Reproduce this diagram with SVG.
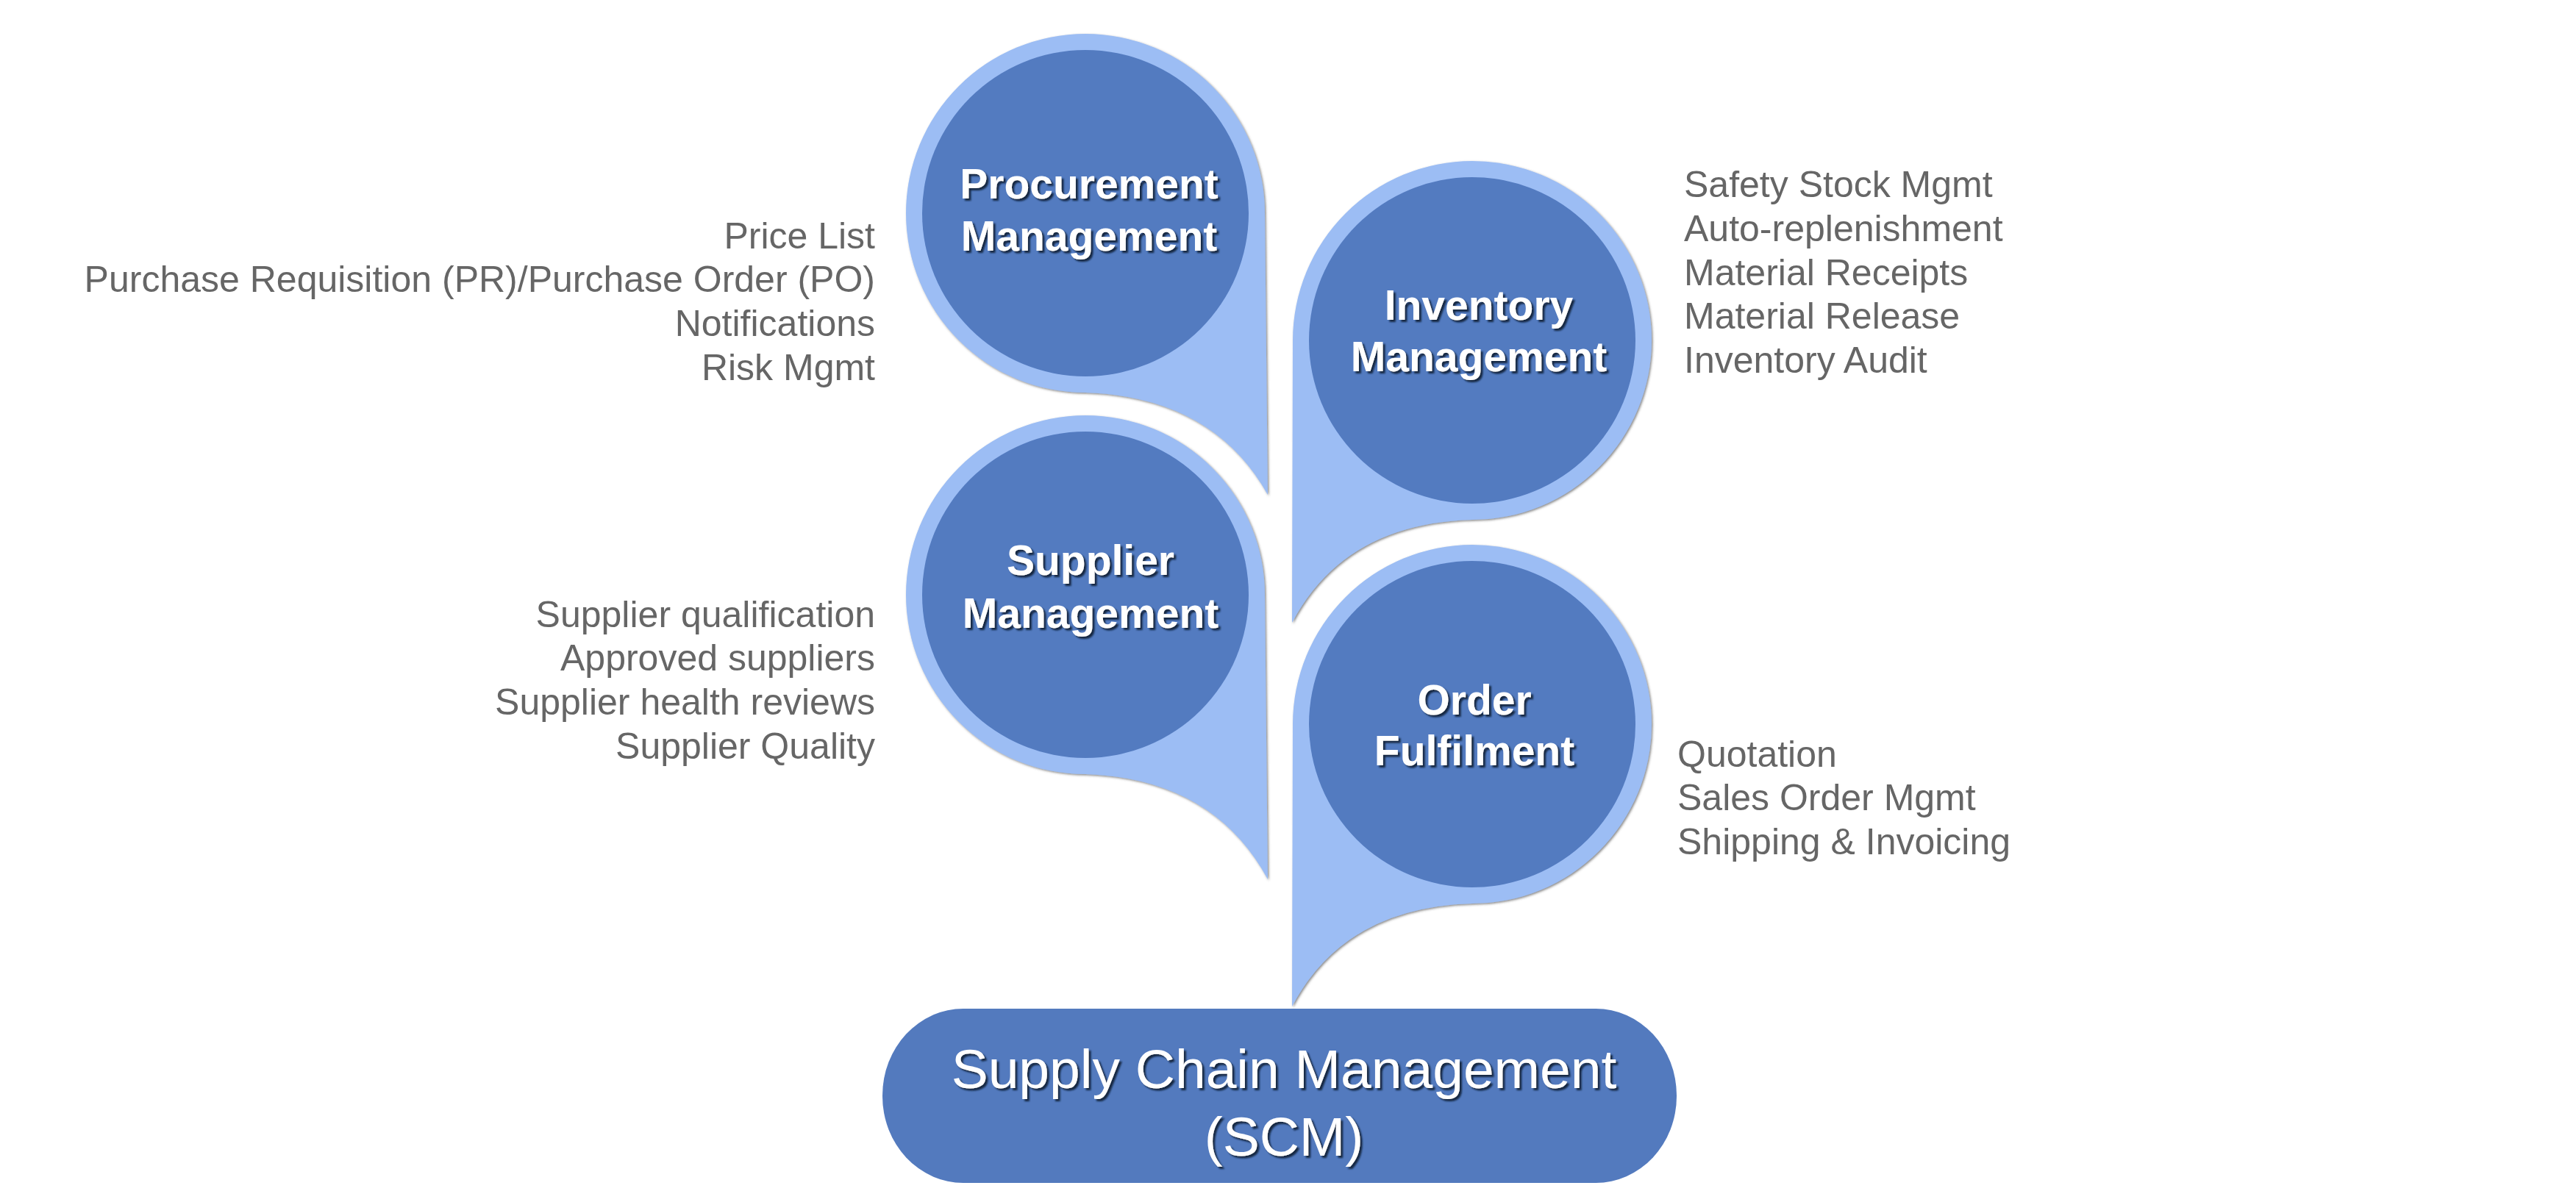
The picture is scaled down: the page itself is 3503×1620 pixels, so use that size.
<svg xmlns="http://www.w3.org/2000/svg" width="3503" height="1620" viewBox="0 0 3503 1620">
  <defs>
    <filter id="edge" x="-10%" y="-10%" width="120%" height="120%">
      <feDropShadow dx="1.5" dy="1.5" stdDeviation="1.5" flood-color="#4a4a4a" flood-opacity="0.65"/>
    </filter>
    <filter id="tshadow" x="-10%" y="-20%" width="120%" height="140%">
      <feDropShadow dx="3" dy="3" stdDeviation="0.8" flood-color="#0e1a35" flood-opacity="0.9"/>
    </filter>
  </defs>
  <style>
    .outer { fill: #9cbdf4; }
    .inner { fill: #537bc0; }
    .scm { fill: #537abe; }
    .label { font-family: "Liberation Sans", Arial, sans-serif; font-weight: bold; font-size: 57px; fill: #ffffff; text-anchor: middle; filter: url(#tshadow); }
    .scmtext { font-family: "Liberation Sans", Arial, sans-serif; font-size: 75px; fill: #ffffff; text-anchor: middle; filter: url(#tshadow); }
    .side { font-family: "Liberation Sans", Arial, sans-serif; font-size: 50px; fill: #666666; }
    .right { text-anchor: end; }
  </style>
  <rect x="0" y="0" width="3503" height="1620" fill="#ffffff"/>

  <g id="connectors"></g>

  <g id="node-procurement">
    <g filter="url(#edge)" class="outer">
      <circle cx="1476" cy="290" r="244"/>
      <path d="M 1720 290 L 1724 673 Q 1650 540 1476 534 L 1476 290 Z"/>
    </g>
    <circle class="inner" cx="1476" cy="290" r="222"/>
    <text class="label" x="1481" y="270">Procurement</text>
    <text class="label" x="1481" y="341">Management</text>
    <text class="side right" x="1190" y="338">Price List</text>
    <text class="side right" x="1190" y="397">Purchase Requisition (PR)/Purchase Order (PO)</text>
    <text class="side right" x="1190" y="457">Notifications</text>
    <text class="side right" x="1190" y="517">Risk Mgmt</text>
  </g>

  <g id="node-supplier">
    <g filter="url(#edge)" class="outer">
      <circle cx="1476" cy="809" r="244"/>
      <path d="M 1720 809 L 1724 1196 Q 1650 1059 1476 1053 L 1476 809 Z"/>
    </g>
    <circle class="inner" cx="1476" cy="809" r="222"/>
    <text class="label" x="1483" y="782">Supplier</text>
    <text class="label" x="1483" y="854">Management</text>
    <text class="side right" x="1190" y="853">Supplier qualification</text>
    <text class="side right" x="1190" y="912">Approved suppliers</text>
    <text class="side right" x="1190" y="972">Supplier health reviews</text>
    <text class="side right" x="1190" y="1032">Supplier Quality</text>
  </g>

  <g id="node-inventory">
    <g filter="url(#edge)" class="outer">
      <circle cx="2002" cy="463" r="244"/>
      <path d="M 1758 463 L 1757 847 Q 1828 712 2002 707 L 2002 463 Z"/>
    </g>
    <circle class="inner" cx="2002" cy="463" r="222"/>
    <text class="label" x="2011" y="435">Inventory</text>
    <text class="label" x="2011" y="505">Management</text>
    <text class="side" x="2290" y="268">Safety Stock Mgmt</text>
    <text class="side" x="2290" y="328">Auto-replenishment</text>
    <text class="side" x="2290" y="388">Material Receipts</text>
    <text class="side" x="2290" y="447">Material Release</text>
    <text class="side" x="2290" y="507">Inventory Audit</text>
  </g>

  <g id="node-order">
    <g filter="url(#edge)" class="outer">
      <circle cx="2002" cy="985" r="244"/>
      <path d="M 1758 985 L 1757 1369 Q 1828 1234 2002 1229 L 2002 985 Z"/>
    </g>
    <circle class="inner" cx="2002" cy="985" r="222"/>
    <text class="label" x="2005" y="972">Order</text>
    <text class="label" x="2005" y="1041">Fulfilment</text>
    <text class="side" x="2281" y="1043">Quotation</text>
    <text class="side" x="2281" y="1102">Sales Order Mgmt</text>
    <text class="side" x="2281" y="1162">Shipping &amp; Invoicing</text>
  </g>

  <g id="node-scm">
    <rect class="scm" x="1200" y="1372" width="1080" height="237" rx="110" ry="118"/>
    <text class="scmtext" x="1746" y="1480">Supply Chain Management</text>
    <text class="scmtext" x="1746" y="1572">(SCM)</text>
  </g>
</svg>
